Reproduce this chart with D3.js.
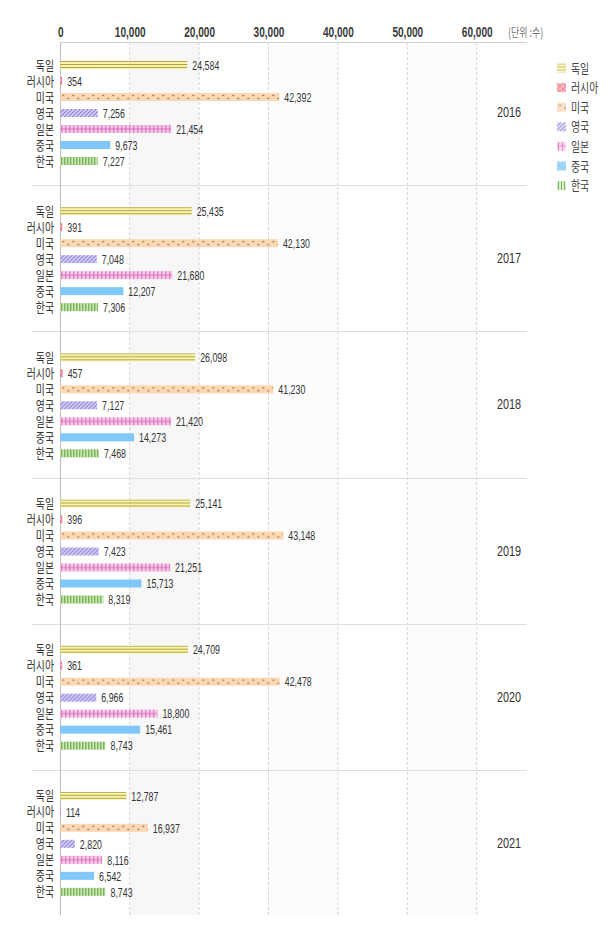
<!DOCTYPE html>
<html><head><meta charset="utf-8">
<script src="https://cdn.jsdelivr.net/npm/d3@7"></script>
<style>
body{margin:0;background:#fff;}
svg{display:block;}
.num{font-family:"Liberation Sans",Arial,sans-serif;}
.kr{font-family:"Noto Sans CJK KR","Noto Sans",sans-serif;}
</style></head>
<body>
<svg id="c" width="615" height="935"></svg>
<script>
const years = ["2016","2017","2018","2019","2020","2021"];
const countries = ["독일","러시아","미국","영국","일본","중국","한국"];
const v2016 = [24584,354,42392,7256,21454,9673,7227];
const v2017 = [25435,391,42130,7048,21680,12207,7306];
const v2018 = [26098,457,41230,7127,21420,14273,7468];
const v2019 = [25141,396,43148,7423,21251,15713,8319];
const v2020 = [24709,361,42478,6966,18800,15461,8743];
const v2021 = [12787,114,16937,2820,8116,6542,8743];
const seriesByYear = [v2016,v2017,v2018,v2019,v2020,v2021];
const tickValues = [0,10000,20000,30000,40000,50000,60000];
const unitLabel = "(단위 :수)";

const svg = d3.select("#c");
const x = d3.scaleLinear().domain([0,60000]).range([60.3,476.7]);
const xb = d3.scaleLinear().domain([0,80600]).range([60.3,476.7]);
const yG = d3.scaleBand().domain(years).range([39,916]);
const yC = d3.scaleBand().domain(countries).range([18,130]);
const yTop = 42, yBot = 915;
const fmt = d3.format(",");

// patterns
const defs = svg.append("defs");
function pat(id,w,h,fill,draw){
  const p = defs.append("pattern").attr("id",id).attr("patternUnits","userSpaceOnUse")
    .attr("width",w).attr("height",h);
  p.append("rect").attr("width",w).attr("height",h).attr("fill",fill);
  if(draw) draw(p);
}
pat("p0",6,3,"#f8f4b0",p=>p.append("rect").attr("y",0).attr("width",6).attr("height",1).attr("fill","#b0a640"));
pat("p1",6,6,"#f6a2ac",p=>{
  p.append("path").attr("d","M0,0L6,6M6,0L0,6").attr("stroke","#e0506a").attr("stroke-width",0.8);
});
pat("p2",10,8,"#fdd7b2",p=>{
  p.append("circle").attr("cx",3).attr("cy",2.5).attr("r",0.8).attr("fill","#7a5030");
  p.append("circle").attr("cx",8).attr("cy",5.5).attr("r",0.8).attr("fill","#7a5030");
});
pat("p3",4,4,"#d4ccf6",p=>{
  p.append("path").attr("d","M-1,5L5,-1M-1,1L1,-1M3,5L5,3").attr("stroke","#7262c6").attr("stroke-width",1);
});
pat("p4",4,8,"#f9c8ea",p=>{
  p.append("rect").attr("x",1).attr("width",0.9).attr("height",8).attr("fill","#d260ae");
  p.append("rect").attr("y",3.6).attr("width",4).attr("height",0.8).attr("fill","#d260ae");
});
pat("p5",4,4,"#7fc8f8");
pat("p6",3,8,"#cbe8b2",p=>{
  p.append("rect").attr("x",1).attr("width",1).attr("height",8).attr("fill","#5a9e3a");
});
const patIds = ["p0","p1","p2","p3","p4","p5","p6"];

// background band(s)
svg.append("rect").attr("x",x(10000)).attr("y",yTop).attr("width",x(20000)-x(10000))
  .attr("height",yBot-yTop).attr("fill","#f7f7f7");
[[30000,40000],[50000,60000]].forEach(b=>{
  svg.append("rect").attr("x",x(b[0])).attr("y",yTop).attr("width",x(b[1])-x(b[0]))
    .attr("height",yBot-yTop).attr("fill","#fcfcfc");
});

// gridlines
svg.append("g").selectAll("line").data(tickValues.slice(1)).join("line")
  .attr("x1",d=>x(d)).attr("x2",d=>x(d)).attr("y1",yTop).attr("y2",yBot)
  .attr("stroke","#d4d4d4").attr("stroke-dasharray","3,2");

// separators
svg.append("g").selectAll("line").data(years.slice(1)).join("line")
  .attr("x1",32).attr("x2",527).attr("y1",d=>Math.round(yG(d))+0.5).attr("y2",d=>Math.round(yG(d))+0.5)
  .attr("stroke","#dedede");

// top axis
const ax = svg.append("g").attr("transform",`translate(0,${yTop})`)
  .call(d3.axisTop(x).tickValues(tickValues).tickSize(0).tickPadding(5).tickFormat(fmt));
ax.select(".domain").remove();
ax.selectAll("text").attr("class","num").attr("font-size",14).attr("font-weight","bold")
  .attr("fill","#3a3a3a").attr("transform","scale(0.72,1)");
svg.append("line").attr("x1",60).attr("x2",527).attr("y1",yTop+0.5).attr("y2",yTop+0.5).attr("stroke","#cfcfcf");
svg.append("line").attr("x1",60.5).attr("x2",60.5).attr("y1",yTop).attr("y2",yBot).attr("stroke","#bdbdbd");
svg.append("text").attr("class","kr").attr("font-size",12.5).attr("fill","#777")
  .attr("transform","translate(508,37) scale(0.72,1)").text(unitLabel);

// groups
years.forEach((yr,gi)=>{
  const g0 = yG(yr);
  const g = svg.append("g");
  const vals = seriesByYear[gi];
  countries.forEach((c,i)=>{
    const cy = g0 + yC(c) + yC.bandwidth()/2;
    const bar = g.append("g").attr("transform",`translate(${x(0)},${cy-4})`);
    bar.append("rect").attr("x",0).attr("y",0).attr("width",xb(vals[i])-xb(0)).attr("height",8)
      .attr("fill",`url(#${patIds[i]})`);
    g.append("text").attr("class","num")
      .attr("transform",`translate(${xb(vals[i])+5},${cy+4.8}) scale(0.68,1)`)
      .attr("font-size",13).attr("fill","#333").text(fmt(vals[i]));
    g.append("text").attr("class","kr").attr("text-anchor","end")
      .attr("transform",`translate(54,${cy+4.5}) scale(0.76,1)`)
      .attr("font-size",13).attr("fill","#333").text(c);
  });
  svg.append("text").attr("class","num").attr("text-anchor","middle")
    .attr("transform",`translate(509,${g0+yG.bandwidth()/2+5}) scale(0.75,1)`)
    .attr("font-size",14.5).attr("fill","#333").text(yr);
});

// legend
const lg = svg.append("g");
countries.forEach((c,i)=>{
  const ly = 68 + i*19.6;
  const it = lg.append("g").attr("transform",`translate(557,${ly-4.5})`);
  it.append("rect").attr("width",9).attr("height",9).attr("fill",`url(#${patIds[i]})`).attr("opacity",0.75);
  lg.append("text").attr("class","kr").attr("transform",`translate(571,${ly+4.5}) scale(0.76,1)`)
    .attr("font-size",13).attr("fill","#444").text(c);
});
</script>
</body></html>
